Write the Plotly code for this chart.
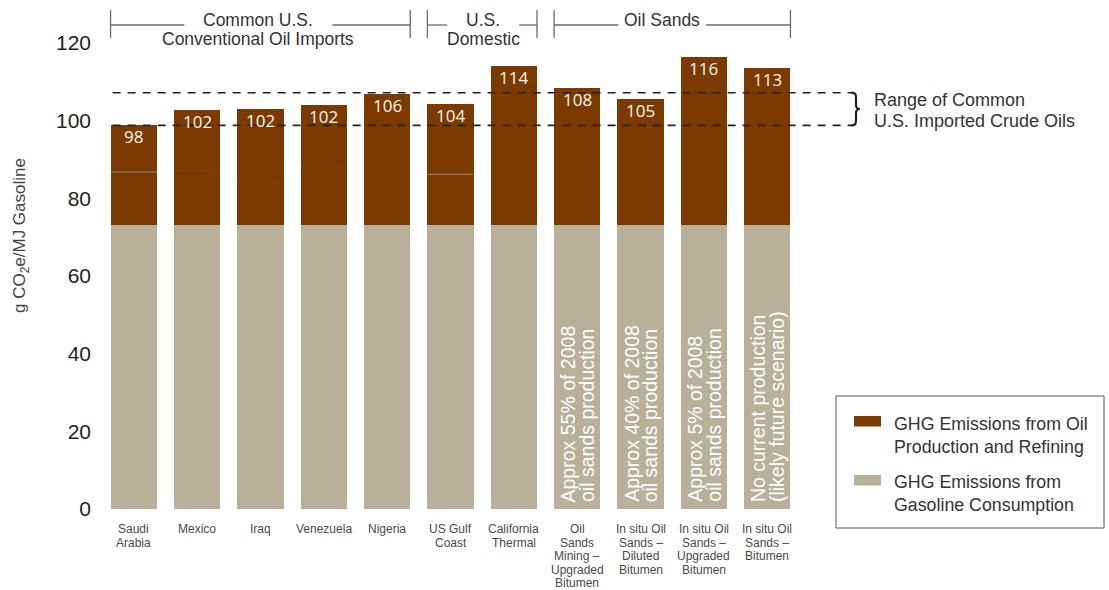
import plotly.graph_objects as go

# ---------------- data ----------------
categories = [
    "Saudi<br>Arabia", "Mexico", "Iraq", "Venezuela", "Nigeria",
    "US Gulf<br>Coast", "California<br>Thermal",
    "Oil<br>Sands<br>Mining –<br>Upgraded<br>Bitumen",
    "In situ Oil<br>Sands –<br>Diluted<br>Bitumen",
    "In situ Oil<br>Sands –<br>Upgraded<br>Bitumen",
    "In situ Oil<br>Sands –<br>Bitumen",
]
total_labels = ["98", "102", "102", "102", "106", "104", "114", "108", "105", "116", "113"]
consumption = [73.1, 73.1, 73.1, 73.1, 73.1, 73.1, 73.1, 73.1, 73.1, 73.1, 73.1]
totals = [98.9, 102.8, 103.0, 104.0, 106.9, 104.4, 114.2, 108.4, 105.6, 116.5, 113.6]
production = [round(t - c, 2) for t, c in zip(totals, consumption)]
inner_lines = [86.8, 87.3, 85.5, 89.6, None, 86.2, None, None, None, None, None]
inner_line_colors = ["#8a8a8a", "#7f4010", "#6a3a18", "#6e3a14", None, "#8a8a8a",
                     None, None, None, None, None]
notes = [None, None, None, None, None, None, None,
         "Approx 55% of 2008<br>oil sands production",
         "Approx 40% of 2008<br>oil sands production",
         "Approx 5% of 2008<br>oil sands production",
         "No current production<br>(likely future scenario)"]
groups = [
    ("Common U.S.<br>Conventional Oil Imports", 0, 4),
    ("U.S.<br>Domestic", 5, 6),
    ("Oil Sands", 7, 10),
]
range_low, range_high = 98.8, 107.2
range_label = "Range of Common<br>U.S. Imported Crude Oils"
series_names = ["GHG Emissions from Oil<br>Production and Refining",
                "GHG Emissions from<br>Gasoline Consumption"]
y_title = "g CO<sub>2</sub>e/MJ Gasoline"
y_ticks = [0, 20, 40, 60, 80, 100, 120]

# ---------------- style ----------------
BROWN = "#7a3a00"
BEIGE = "#b8b098"
FONT = "Liberation Sans, Arial, sans-serif"
W, H = 1109, 590
ML, MR, MT, MB = 102, 310, 43, 81
PW, PH = W - ML - MR, H - MT - MB
YMAX = 120
N = len(categories)
HALF = 0.365  # half bar width in category units (bargap 0.27)

# group label layout (text centre offset and gap half-width, in px)
group_style = [
    {"dx": -2, "gap": 74},
    {"dx": 1, "gap": 36},
    {"dx": -10, "gap": 44},
]


def xp_px(px):
    return (px - ML) / PW


def yp_px(py):
    return (H - MB - py) / PH


def xp_data(x):
    return (x + 0.5) / N


def px_data(x):
    return ML + xp_data(x) * PW


def yp_data(v):
    return v / YMAX


def py_data(v):
    return H - MB - yp_data(v) * PH


fig = go.Figure()
fig.add_trace(go.Bar(x=list(range(N)), y=consumption, name=series_names[1],
                     marker=dict(color=BEIGE, line=dict(width=0)), showlegend=False,
                     hoverinfo="y"))
fig.add_trace(go.Bar(x=list(range(N)), y=production, name=series_names[0],
                     marker=dict(color=BROWN, line=dict(width=0)), showlegend=False,
                     hoverinfo="y"))

shapes = []
annotations = []

# thin lines inside bars
for i, (v, c) in enumerate(zip(inner_lines, inner_line_colors)):
    if v is None:
        continue
    shapes.append(dict(type="line", xref="x", yref="y", x0=i - HALF, x1=i + HALF,
                       y0=v, y1=v, line=dict(color=c, width=1), layer="above"))

# value labels
for i, (t, lab) in enumerate(zip(totals, total_labels)):
    annotations.append(dict(x=i, y=t, xref="x", yref="y", text=lab, showarrow=False,
                            yanchor="top", yshift=2,
                            font=dict(family="Open Sans, sans-serif", size=17, color="#fbf7f0")))

# rotated notes (each line separately for tight leading)
NOTE_LEAD = 18.5
for i, note in enumerate(notes):
    if note is None:
        continue
    lines = note.split("<br>")
    k = len(lines)
    for j, ln in enumerate(lines):
        annotations.append(dict(x=i, y=0, xref="x", yref="y", text=ln, showarrow=False,
                                textangle=-90, yanchor="bottom", yshift=5,
                                xshift=(j - (k - 1) / 2) * NOTE_LEAD,
                                font=dict(family=FONT, size=19.5, color="#ffffff")))

# category labels (one annotation per line for tight leading)
CAT_LEAD = 13.6
for i, cat in enumerate(categories):
    for j, ln in enumerate(cat.split("<br>")):
        annotations.append(dict(x=i, y=yp_px(529 + j * CAT_LEAD), xref="x", yref="paper",
                                text=ln, showarrow=False, yanchor="middle",
                                font=dict(family=FONT, size=12, color="#4a4a4a")))

# dashed range lines
x_dash0 = xp_data(0 - HALF) + 0.003
x_dash1 = xp_px(851)
for v in (range_low, range_high):
    shapes.append(dict(type="line", xref="paper", yref="paper", x0=x_dash0, x1=x_dash1,
                       y0=yp_data(v), y1=yp_data(v),
                       line=dict(color="#222222", width=1.6, dash="8px,7px"), layer="above"))

# brace
bx = 851
yt, yb = py_data(range_high), py_data(range_low)
ym = (yt + yb) / 2
pts = [
    ("M", [(bx, yt)]),
    ("C", [(bx + 5, yt), (bx + 5, yt + 2), (bx + 5, yt + 6)]),
    ("L", [(bx + 5, ym - 4)]),
    ("C", [(bx + 5, ym - 1), (bx + 7, ym), (bx + 9, ym)]),
    ("C", [(bx + 7, ym), (bx + 5, ym + 1), (bx + 5, ym + 4)]),
    ("L", [(bx + 5, yb - 6)]),
    ("C", [(bx + 5, yb - 2), (bx + 5, yb), (bx, yb)]),
]
path = ""
for cmd, ps in pts:
    path += cmd + " ".join(f"{xp_px(a):.5f},{yp_px(b):.5f}" for a, b in ps) + " "
shapes.append(dict(type="path", xref="paper", yref="paper", path=path.strip(),
                   line=dict(color="#222222", width=2.2)))
for j, ln in enumerate(range_label.split("<br>")):
    annotations.append(dict(x=xp_px(872), y=yp_px(100 + 21 * j), xref="paper", yref="paper",
                            text=ln, showarrow=False, xanchor="left", yanchor="middle",
                            font=dict(family=FONT, size=18, color="#333333")))

# group brackets
BR_Y = 25
for (label, a, b), st in zip(groups, group_style):
    xl = px_data(a - HALF)
    xr = px_data(b + HALF)
    xc = (xl + xr) / 2 + st["dx"]
    for x in (xl, xr):
        shapes.append(dict(type="line", xref="paper", yref="paper", x0=xp_px(x), x1=xp_px(x),
                           y0=yp_px(10), y1=yp_px(38), line=dict(color="#6b6b6b", width=1.3)))
    shapes.append(dict(type="line", xref="paper", yref="paper", x0=xp_px(xl),
                       x1=xp_px(xc - st["gap"]), y0=yp_px(BR_Y), y1=yp_px(BR_Y),
                       line=dict(color="#6b6b6b", width=1.3)))
    shapes.append(dict(type="line", xref="paper", yref="paper", x0=xp_px(xc + st["gap"]),
                       x1=xp_px(xr), y0=yp_px(BR_Y), y1=yp_px(BR_Y),
                       line=dict(color="#6b6b6b", width=1.3)))
    lines = label.split("<br>")
    for j, ln in enumerate(lines):
        cy = 20 + 19 * j
        annotations.append(dict(x=xp_px(xc), y=yp_px(cy), xref="paper", yref="paper", text=ln,
                                showarrow=False, xanchor="center", yanchor="middle",
                                font=dict(family=FONT, size=17.5, color="#333333")))

# y-axis title
annotations.append(dict(x=xp_px(21), y=yp_px(236), xref="paper", yref="paper", text=y_title,
                        showarrow=False, textangle=-90, xanchor="center", yanchor="middle",
                        font=dict(family=FONT, size=17, color="#444444")))

# custom legend
shapes.append(dict(type="rect", xref="paper", yref="paper", x0=xp_px(836), x1=xp_px(1104),
                   y0=yp_px(396), y1=yp_px(528), line=dict(color="#555555", width=1),
                   fillcolor="rgba(0,0,0,0)"))
for (name, col, sy, ty) in [(series_names[0], BROWN, 416, 435.5),
                            (series_names[1], BEIGE, 475, 493.5)]:
    shapes.append(dict(type="rect", xref="paper", yref="paper", x0=xp_px(854), x1=xp_px(881),
                       y0=yp_px(sy), y1=yp_px(sy + 10.5), line=dict(width=0), fillcolor=col))
    annotations.append(dict(x=xp_px(892), y=yp_px(ty), xref="paper", yref="paper", text=name,
                            showarrow=False, xanchor="left", yanchor="middle", align="left",
                            font=dict(family=FONT, size=17.8, color="#333333")))

fig.update_layout(
    width=W, height=H,
    margin=dict(l=ML, r=MR, t=MT, b=MB, pad=0),
    barmode="stack", bargap=0.27,
    plot_bgcolor="white", paper_bgcolor="white",
    showlegend=False,
    shapes=shapes, annotations=annotations,
    font=dict(family=FONT, color="#333333"),
    xaxis=dict(range=[-0.5, N - 0.5], tickvals=list(range(N)), showticklabels=False,
               showgrid=False, zeroline=False, showline=False, ticks="", automargin=False),
    yaxis=dict(range=[0, YMAX], tickvals=y_ticks, showgrid=False, zeroline=False,
               showline=False, ticks="", tickfont=dict(family=FONT, size=21, color="#231f20"),
               ticklabelstandoff=10, automargin=False),
)

fig.write_html("out.html")
